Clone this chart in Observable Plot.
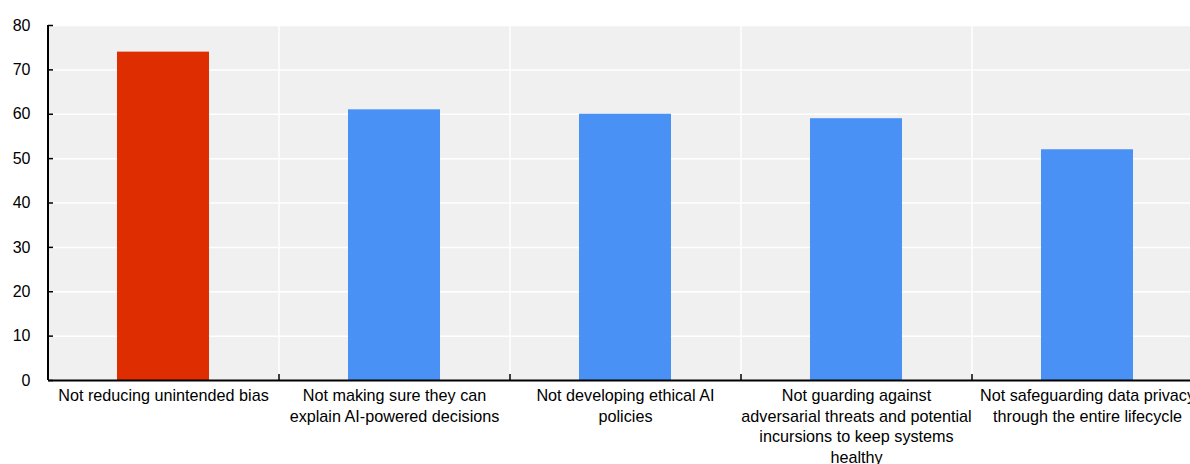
<!DOCTYPE html>
<html>
<head>
<meta charset="utf-8">
<script src="https://cdn.jsdelivr.net/npm/d3@7"></script>
<script src="https://cdn.jsdelivr.net/npm/@observablehq/plot@0.6"></script>
<style>
  html, body { margin: 0; padding: 0; background: #fff; overflow: hidden; }
  #chart svg { display: block; max-width: none !important; }
</style>
</head>
<body>
<div id="chart"></div>
<script>
// Share of respondents citing each AI risk (%)
const categories = [
  "Not reducing unintended bias",
  "Not making sure they can explain AI-powered decisions",
  "Not developing ethical AI policies",
  "Not guarding against adversarial threats and potential incursions to keep systems healthy",
  "Not safeguarding data privacy through the entire lifecycle"
];
const values = [74, 61, 60, 59, 52];
const tickLabels = [
  "Not reducing unintended bias",
  "Not making sure they can\nexplain AI-powered decisions",
  "Not developing ethical AI\npolicies",
  "Not guarding against\nadversarial threats and potential\nincursions to keep systems\nhealthy",
  "Not safeguarding data privacy\nthrough the entire lifecycle"
];
const yTicks = [0, 10, 20, 30, 40, 50, 60, 70, 80];
const highlight = categories[0];

const data = categories.map((c, i) => ({category: c, value: values[i], label: tickLabels[i]}));

const width = 1203, height = 464;
const marginLeft = 48, marginRight = 0, marginTop = 25, marginBottom = 84;
const step = (width - marginLeft - marginRight) / categories.length;

const chart = Plot.plot({
  width, height, marginLeft, marginRight, marginTop, marginBottom,
  style: {fontFamily: "'Liberation Sans', Arial, sans-serif", fontSize: "16px", color: "#000", background: "#fff", maxWidth: "none"},
  x: {domain: categories, paddingInner: 0.6, paddingOuter: 0.3, axis: null, label: null},
  y: {domain: [0, 80], axis: null, label: null},
  marks: [
    Plot.frame({fill: "#f0f0f0", stroke: null}),
    Plot.ruleY(yTicks.slice(1), {stroke: "#fff", strokeWidth: 1.5}),
    Plot.ruleX(categories.slice(1), {stroke: "#fff", strokeWidth: 1.5, dx: -step / 2}),
    Plot.barY(data, {
      x: "category", y: "value",
      fill: d => d.category === highlight ? "#de2d00" : "#4a91f5"
    }),
    // left and bottom axis lines
    Plot.ruleX([categories[0]], {stroke: "#000", strokeWidth: 2, dx: -step / 2, y1: 0, y2: 80}),
    Plot.ruleY([0], {stroke: "#000", strokeWidth: 2}),
    // y axis ticks (inward) and labels
    Plot.axisY({ticks: yTicks, label: null, tickSize: -5, tickPadding: 23, tickFormat: d => d, stroke: "#000", strokeWidth: 1.5, fontSize: 16, fill: "#000"}),
    // x axis boundary ticks (inward)
    Plot.axisX({ticks: categories.slice(1), label: null, tickSize: -6, tickFormat: () => "", dx: -step / 2, stroke: "#000", strokeWidth: 1.5}),
    // x labels
    Plot.text(data, {
      x: "category", text: "label", frameAnchor: "bottom", lineAnchor: "top",
      dy: 6, lineHeight: 1.27, fill: "#000", fontSize: 16.2
    })
  ]
});
document.getElementById("chart").appendChild(chart);
</script>
</body>
</html>
